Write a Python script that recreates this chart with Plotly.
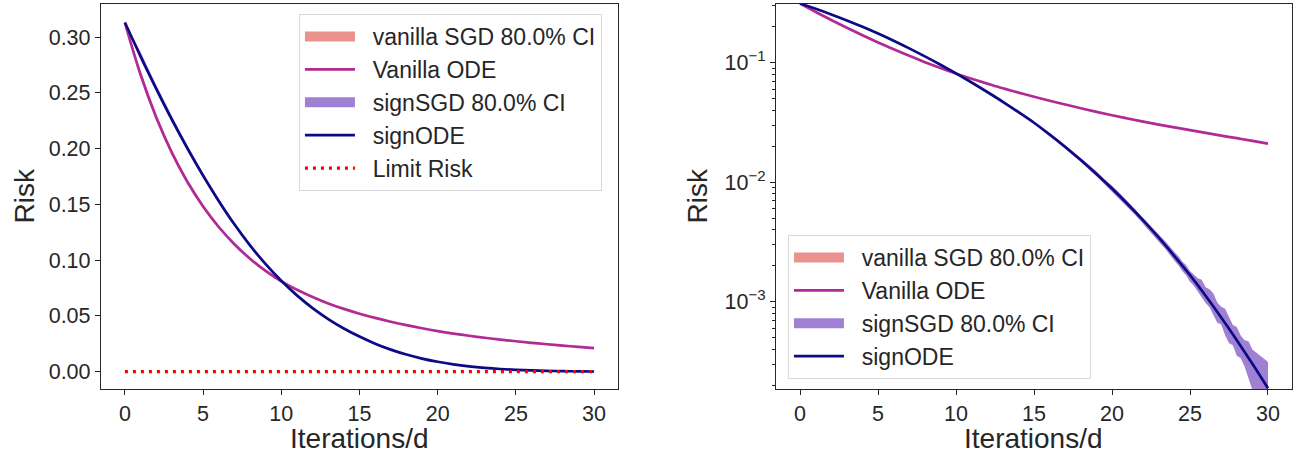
import plotly.graph_objects as go

# ---------------- data ----------------
t_ode = list(range(31))
vanilla_ode = [0.3130, 0.2664, 0.2280, 0.1963, 0.1700, 0.1481, 0.1297, 0.1143, 0.1013, 0.0903,
               0.0810, 0.0735, 0.0670, 0.0612, 0.0563, 0.0520, 0.0482, 0.0448, 0.0417, 0.0389,
               0.0364, 0.0342, 0.0322, 0.0304, 0.0288, 0.0273, 0.0259, 0.0246, 0.0234, 0.0222,
               0.0211]
sign_ode = [0.3130, 0.2828, 0.2538, 0.2262, 0.2002, 0.1758, 0.1531, 0.1321, 0.1132, 0.0964,
            0.0815, 0.0684, 0.0570, 0.0472, 0.0387, 0.0315, 0.0251, 0.01977, 0.01535, 0.01175,
            0.00887, 0.00658, 0.00480, 0.00344, 0.002415, 0.001671, 0.001125, 0.000740, 0.000478,
            0.000303, 0.000189]

vanilla_ci_upper = [0.3130, 0.2696, 0.2307, 0.1987, 0.1720, 0.1499, 0.1313, 0.1157, 0.1025, 0.0914,
                    0.0820, 0.0744, 0.0678, 0.0619, 0.0570, 0.0526, 0.0488, 0.0453, 0.0422, 0.0394,
                    0.0368, 0.0346, 0.0326, 0.0308, 0.0291, 0.0276, 0.0262, 0.0249, 0.0237, 0.0225,
                    0.0214]
vanilla_ci_lower = [0.3130, 0.2632, 0.2253, 0.1939, 0.1680, 0.1463, 0.1281, 0.1129, 0.1001, 0.0892,
                    0.0800, 0.0726, 0.0662, 0.0605, 0.0556, 0.0514, 0.0476, 0.0443, 0.0412, 0.0384,
                    0.0360, 0.0338, 0.0318, 0.0300, 0.0285, 0.0270, 0.0256, 0.0243, 0.0231, 0.0219,
                    0.0208]

sign_ci_t = [0, 1, 2, 3, 4, 5, 6, 7, 8, 9, 10, 11, 12, 13, 14, 15, 16, 17, 18,
             18.5, 19, 19.5, 20, 20.5, 21, 21.5, 22, 22.5, 23, 23.5, 24,
             24.25, 24.5, 24.75, 25, 25.25, 25.5, 25.75, 26, 26.25, 26.5, 26.75, 27,
             27.25, 27.5, 27.75, 28, 28.25, 28.5, 28.75, 29, 29.25, 29.5, 29.75, 30]
sign_ci_upper = [0.3130, 0.2865, 0.2571, 0.2291, 0.2028, 0.1781, 0.1551, 0.1338, 0.1147, 0.0977,
                 0.0826, 0.0695, 0.0580, 0.0481, 0.0396, 0.0323, 0.02593, 0.02050, 0.01599,
                 0.01406, 0.01236, 0.01064, 0.00938, 0.00811, 0.00692, 0.00602, 0.00510, 0.00437,
                 0.00369, 0.003129, 0.002611,
                 0.002414, 0.002178, 0.002032, 0.001811, 0.001699, 0.001574, 0.001528, 0.001322,
                 0.001275, 0.001175, 0.000988, 0.000910, 0.000874, 0.000748, 0.000641, 0.000616,
                 0.000524, 0.000478, 0.000468, 0.000399, 0.000379, 0.000354, 0.000335, 0.000314]
sign_ci_lower = [0.3130, 0.2791, 0.2505, 0.2233, 0.1976, 0.1735, 0.1511, 0.1304, 0.1117, 0.0951,
                 0.0804, 0.0673, 0.0560, 0.0463, 0.0378, 0.0307, 0.02440, 0.01910, 0.01480,
                 0.01288, 0.01122, 0.00966, 0.00847, 0.00727, 0.00617, 0.00531, 0.00448, 0.00381,
                 0.00318, 0.002688, 0.002203,
                 0.002027, 0.001812, 0.001671, 0.001472, 0.001366, 0.001222, 0.001094, 0.000980,
                 0.000903, 0.000776, 0.000668, 0.000645, 0.000526, 0.000451, 0.000433, 0.000354,
                 0.000338, 0.000288, 0.000235, 0.000183, 0.000135, 0.000134, 0.000112, 0.000085]

limit_t = [0, 30]
limit_risk = [0.0001, 0.0001]

x_ticks = [0, 5, 10, 15, 20, 25, 30]
log_tickvals = [1e-3, 1e-2, 1e-1]
log_ticktext = ["10<sup>−3</sup>", "10<sup>−2</sup>", "10<sup>−1</sup>"]
log_minor = [2e-4, 3e-4, 4e-4, 5e-4, 6e-4, 7e-4, 8e-4, 9e-4,
             2e-3, 3e-3, 4e-3, 5e-3, 6e-3, 7e-3, 8e-3, 9e-3,
             2e-2, 3e-2, 4e-2, 5e-2, 6e-2, 7e-2, 8e-2, 9e-2,
             2e-1, 3e-1]

names = ["vanilla SGD 80.0% CI", "Vanilla ODE", "signSGD 80.0% CI", "signODE", "Limit Risk"]

# ---------------- style ----------------
FONT = "Liberation Sans, Arial, sans-serif"
TXT = "#262626"
C_VCI = "rgb(234,146,142)"
C_VODE = "#b22a96"
C_SCI = "rgb(160,128,210)"
C_SODE = "#0d0a85"
C_LIM = "#ff0000"
LW = 2.7
GAP = "\u00a0\u00a0"  # small gap between legend swatch and label

fig = go.Figure()

for (xa, ya, leg) in [("x", "y", "legend"), ("x2", "y2", "legend2")]:
    fig.add_trace(go.Scatter(x=[None], y=[None], mode="lines", line=dict(color=C_VCI, width=16),
                             name=GAP + names[0], xaxis=xa, yaxis=ya, legend=leg))
    fig.add_trace(go.Scatter(x=t_ode + t_ode[::-1], y=vanilla_ci_upper + vanilla_ci_lower[::-1],
                             fill="toself", fillcolor=C_VCI, line=dict(width=0), mode="lines",
                             name=names[0], xaxis=xa, yaxis=ya, showlegend=False))
    fig.add_trace(go.Scatter(x=t_ode, y=vanilla_ode, mode="lines", line=dict(color=C_VODE, width=LW, shape="spline"),
                             name=GAP + names[1], xaxis=xa, yaxis=ya, legend=leg))
    fig.add_trace(go.Scatter(x=[None], y=[None], mode="lines", line=dict(color=C_SCI, width=16),
                             name=GAP + names[2], xaxis=xa, yaxis=ya, legend=leg))
    fig.add_trace(go.Scatter(x=sign_ci_t + sign_ci_t[::-1], y=sign_ci_upper + sign_ci_lower[::-1],
                             fill="toself", fillcolor=C_SCI, line=dict(width=0), mode="lines",
                             name=names[2], xaxis=xa, yaxis=ya, showlegend=False))
    fig.add_trace(go.Scatter(x=t_ode, y=sign_ode, mode="lines", line=dict(color=C_SODE, width=LW, shape="spline"),
                             name=GAP + names[3], xaxis=xa, yaxis=ya, legend=leg))

fig.add_trace(go.Scatter(x=limit_t, y=limit_risk, mode="lines",
                         line=dict(color=C_LIM, width=3.2, dash="3px,5px"),
                         name=GAP + names[4], xaxis="x", yaxis="y", legend="legend"))

axis_common = dict(showline=True, linecolor=TXT, linewidth=1.25, mirror=True,
                   ticks="outside", ticklen=5, tickwidth=1.25, tickcolor=TXT,
                   showgrid=False, zeroline=False,
                   tickfont=dict(family=FONT, size=21.5, color=TXT))

legend_common = dict(xanchor="left", yanchor="top", bgcolor="white", bordercolor="#d9d9d9",
                     borderwidth=1, font=dict(family=FONT, size=23, color=TXT), itemwidth=50,
                     traceorder="normal")

fig.update_layout(
    width=1293, height=454,
    margin=dict(l=0, r=0, t=0, b=0),
    paper_bgcolor="white", plot_bgcolor="white",
    font=dict(family=FONT, color=TXT),
    xaxis=dict(domain=[0.0781, 0.4782], range=[-1.53, 31.55], tickvals=x_ticks, anchor="y", **axis_common),
    yaxis=dict(domain=[0.1432, 0.9912], range=[-0.0155, 0.3296], tick0=0, dtick=0.05,
               tickformat=".2f", anchor="x", **axis_common),
    xaxis2=dict(domain=[0.6002, 0.999], range=[-1.54, 31.52], tickvals=x_ticks, anchor="y2", **axis_common),
    yaxis2=dict(domain=[0.1432, 0.9912], type="log", range=[-3.729, -0.508],
                tickvals=log_tickvals, ticktext=log_ticktext, anchor="x2",
                minor=dict(tickvals=log_minor, ticks="outside", ticklen=3, tickwidth=1, tickcolor=TXT),
                **axis_common),
    legend=dict(x=0.2312, y=1 - 14 / 454, **legend_common),
    legend2=dict(x=0.6094, y=1 - 235 / 454, **legend_common),
    showlegend=True,
)

titles = [
    dict(text="Iterations/d", x=0.2782, y=1 - 438 / 454, textangle=0),
    dict(text="Iterations/d", x=0.7996, y=1 - 438 / 454, textangle=0),
    dict(text="Risk", x=24 / 1293, y=1 - 196.5 / 454, textangle=-90),
    dict(text="Risk", x=697 / 1293, y=1 - 196.5 / 454, textangle=-90),
]
for t in titles:
    fig.add_annotation(text=t["text"], x=t["x"], y=t["y"], xref="paper", yref="paper",
                       xanchor="center", yanchor="middle", showarrow=False, textangle=t["textangle"],
                       font=dict(family=FONT, size=28, color=TXT))

fig.write_html("out.html", config={"displayModeBar": False},
               post_script="document.body.style.margin='0';document.body.style.overflow='hidden';")
